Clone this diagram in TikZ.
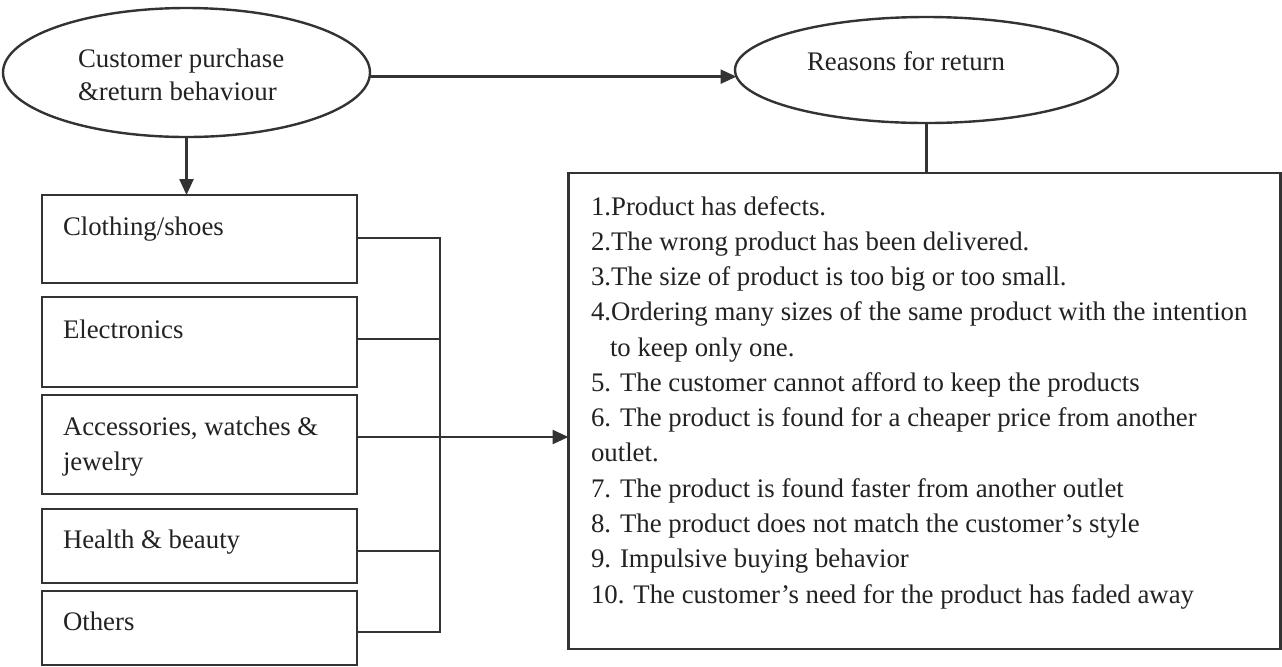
\documentclass[tikz,border=0pt]{standalone}
\usepackage{fontspec}
\setmainfont{Liberation Serif}
\usetikzlibrary{arrows.meta,shapes.geometric}
\definecolor{ink}{HTML}{222222}
\definecolor{edge}{HTML}{333333}
\begin{document}
\begin{tikzpicture}[x=0.5pt,y=-0.5pt,
  every node/.style={inner sep=0pt, outer sep=0pt},
  line/.style={draw=edge, line width=1.2pt},
  arr/.style={line, -{Triangle[length=8pt,width=7pt]}},
  oval/.style={ellipse, line},
  box/.style={rectangle, line, minimum width=157.5pt},
  txt/.style={font=\fontsize{13.4}{17.6}\selectfont, text=ink}]
\path[fill=white, use as bounding box] (0,0) rectangle (1282,666);

% ellipses
\node[oval, minimum width=183.5pt, minimum height=64.5pt] (e1) at (186.5,72.5) {};
\node[txt, anchor=north west, align=left, font=\fontsize{13.4}{16.5}\selectfont] (te1) at (78,47) {\rule{0pt}{10pt}Customer purchase\\\&return behaviour};
\node[oval, minimum width=191.5pt, minimum height=53pt] (e2) at (926.5,70) {};
\node[txt, anchor=base west] (te2) at (807,70) {Reasons for return};

% category boxes
\node[box, minimum height=44pt]   (b1) at (199.5,239) {};
\node[box, minimum height=45pt]   (b2) at (199.5,342) {};
\node[box, minimum height=49.5pt] (b3) at (199.5,444.5) {};
\node[box, minimum height=37pt]   (b4) at (199.5,546) {};
\node[box, minimum height=37pt]   (b5) at (199.5,628) {};
\node[txt, anchor=base west] (tb1) at (63,235) {Clothing/shoes};
\node[txt, anchor=base west] (tb2) at (63,338) {Electronics};
\node[txt, anchor=north west, align=left, font=\fontsize{13.4}{17.5}\selectfont] (tb3) at (63,415) {\rule{0pt}{10pt}Accessories, watches \&\\jewelry};
\node[txt, anchor=base west] (tb4) at (63,548) {Health \& beauty};
\node[txt, anchor=base west] (tb5) at (63,630) {Others};

% reasons box
\node[rectangle, line, minimum width=356pt, minimum height=238pt] (r) at (924.5,411) {};
\node[txt, anchor=north west, align=left, font=\fontsize{13.4}{17.64}\selectfont] (tr) at (591,195) {\rule{0pt}{10pt}1.Product has defects.\\
2.The wrong product has been delivered.\\
3.The size of product is too big or too small.\\
4.Ordering many sizes of the same product with the intention\\
\hspace{9.5pt}to keep only one.\\
5. The customer cannot afford to keep the products\\
6. The product is found for a cheaper price from another\\
outlet.\\
7. The product is found faster from another outlet\\
8. The product does not match the customer’s style\\
9. Impulsive buying behavior\\
10. The customer’s need for the product has faded away};

% junctions on the bus
\coordinate (j1) at (440,238);
\coordinate (j2) at (440,339);
\coordinate (j3) at (440,437);
\coordinate (j4) at (440,551);
\coordinate (j5) at (440,632);

% connectors
\draw[arr] (e1.south) -- (e1.south |- b1.north);
\draw[arr] (e1.east |- e2.182) -- (e2.182);
\draw[line] (e2.south) -- (e2.south |- r.north);
\draw[line] (b1.east |- j1) -- (j1) -- (j5) -- (b5.east |- j5);
\draw[line] (b2.east |- j2) -- (j2);
\draw[line] (b4.east |- j4) -- (j4);
\draw[arr] (b3.east |- j3) -- (r.west |- j3);
\end{tikzpicture}
\end{document}
